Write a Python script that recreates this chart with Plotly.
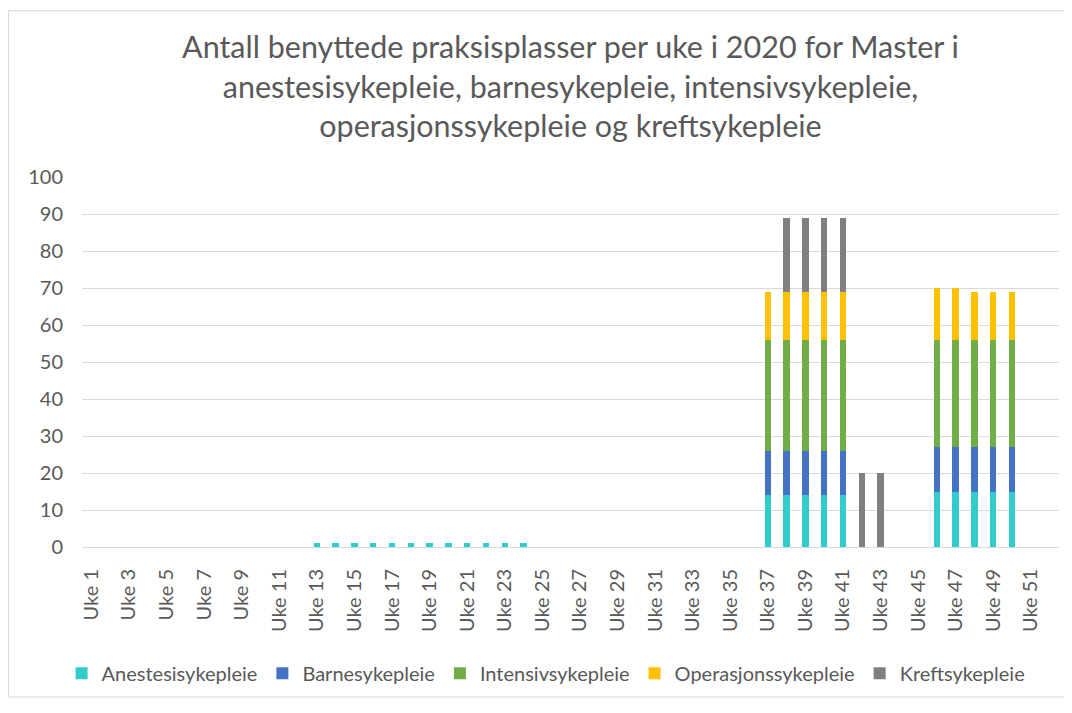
import plotly.graph_objects as go

weeks = ["Uke 1", "Uke 2", "Uke 3", "Uke 4", "Uke 5", "Uke 6", "Uke 7", "Uke 8", "Uke 9", "Uke 10",
         "Uke 11", "Uke 12", "Uke 13", "Uke 14", "Uke 15", "Uke 16", "Uke 17", "Uke 18", "Uke 19", "Uke 20",
         "Uke 21", "Uke 22", "Uke 23", "Uke 24", "Uke 25", "Uke 26", "Uke 27", "Uke 28", "Uke 29", "Uke 30",
         "Uke 31", "Uke 32", "Uke 33", "Uke 34", "Uke 35", "Uke 36", "Uke 37", "Uke 38", "Uke 39", "Uke 40",
         "Uke 41", "Uke 42", "Uke 43", "Uke 44", "Uke 45", "Uke 46", "Uke 47", "Uke 48", "Uke 49", "Uke 50",
         "Uke 51", "Uke 52"]
tick_labels = weeks[0::2]

#            1-10                          11-20                         21-30                         31-40                              41-50                               51-52
anestesi = [0, 0, 0, 0, 0, 0, 0, 0, 0, 0,   0, 0, 1, 1, 1, 1, 1, 1, 1, 1,   1, 1, 1, 1, 0, 0, 0, 0, 0, 0,   0, 0, 0, 0, 0, 0, 14, 14, 14, 14,   14, 0, 0, 0, 0, 15, 15, 15, 15, 15,   0, 0]
barn     = [0, 0, 0, 0, 0, 0, 0, 0, 0, 0,   0, 0, 0, 0, 0, 0, 0, 0, 0, 0,   0, 0, 0, 0, 0, 0, 0, 0, 0, 0,   0, 0, 0, 0, 0, 0, 12, 12, 12, 12,   12, 0, 0, 0, 0, 12, 12, 12, 12, 12,   0, 0]
intensiv = [0, 0, 0, 0, 0, 0, 0, 0, 0, 0,   0, 0, 0, 0, 0, 0, 0, 0, 0, 0,   0, 0, 0, 0, 0, 0, 0, 0, 0, 0,   0, 0, 0, 0, 0, 0, 30, 30, 30, 30,   30, 0, 0, 0, 0, 29, 29, 29, 29, 29,   0, 0]
operasjon = [0, 0, 0, 0, 0, 0, 0, 0, 0, 0,  0, 0, 0, 0, 0, 0, 0, 0, 0, 0,   0, 0, 0, 0, 0, 0, 0, 0, 0, 0,   0, 0, 0, 0, 0, 0, 13, 13, 13, 13,   13, 0, 0, 0, 0, 14, 14, 13, 13, 13,   0, 0]
kreft    = [0, 0, 0, 0, 0, 0, 0, 0, 0, 0,   0, 0, 0, 0, 0, 0, 0, 0, 0, 0,   0, 0, 0, 0, 0, 0, 0, 0, 0, 0,   0, 0, 0, 0, 0, 0, 0, 20, 20, 20,    20, 20, 20, 0, 0, 0, 0, 0, 0, 0,      0, 0]

series = [
    ("Anestesisykepleie", anestesi, "#33CCCC"),
    ("Barnesykepleie", barn, "#4472C4"),
    ("Intensivsykepleie", intensiv, "#70AD47"),
    ("Operasjonssykepleie", operasjon, "#FFC000"),
    ("Kreftsykepleie", kreft, "#7F7F7F"),
]

FONT = "Lato"
TXT = "#595959"

fig = go.Figure()
for name, vals, col in series:
    fig.add_trace(go.Bar(x=weeks, y=vals, name=name, marker=dict(color=col, line=dict(width=0))))

# page has an 8px body margin; figure coordinates = page coordinates - 8
W, H = 1064, 697
L, R, T, B = 74, 13, 169, 153
pw, ph = W - L - R, H - T - B

fig.update_layout(
    width=W, height=H,
    barmode="stack", bargap=0.66,
    paper_bgcolor="white", plot_bgcolor="white",
    margin=dict(l=L, r=R, t=T, b=B, pad=0),
    font=dict(family=FONT, color=TXT, size=20),
    title=dict(
        text="Antall benyttede praksisplasser per uke i 2020 for Master i<br>anestesisykepleie, barnesykepleie, intensivsykepleie,<br>operasjonssykepleie og kreftsykepleie",
        x=0.5, xanchor="center", xref="paper", y=1 - 50 / H, yanchor="top",
        font=dict(family=FONT, size=30.5, color=TXT),
    ),
    xaxis=dict(
        type="category", categoryorder="array", categoryarray=weeks,
        tickmode="array", tickvals=tick_labels, ticktext=tick_labels,
        tickangle=-90, showgrid=False, ticks="", showline=True, linecolor="#D9D9D9", linewidth=1,
        tickfont=dict(size=20, color=TXT), ticklabelstandoff=13,
    ),
    yaxis=dict(
        range=[0, 100], dtick=10, showgrid=True, gridcolor="#D9D9D9", gridwidth=1,
        zeroline=False, ticks="", showline=False,
        tickfont=dict(size=20, color=TXT), ticklabelstandoff=18,
    ),
    legend=dict(
        orientation="h", x=0.475, xanchor="center", y=-(672 - (H - B)) / ph, yanchor="middle",
        font=dict(size=20, color=TXT), traceorder="normal", itemsizing="constant",
    ),
    shapes=[dict(
        type="rect", xref="paper", yref="paper",
        x0=(0.5 - L) / pw, x1=(1058 - L) / pw, y0=-(696 - (H - B)) / ph, y1=1 + (T - 0.5) / ph,
        line=dict(color="#D9D9D9", width=1), fillcolor="rgba(0,0,0,0)", layer="below",
    )],
)

fig.write_html("out.html")
